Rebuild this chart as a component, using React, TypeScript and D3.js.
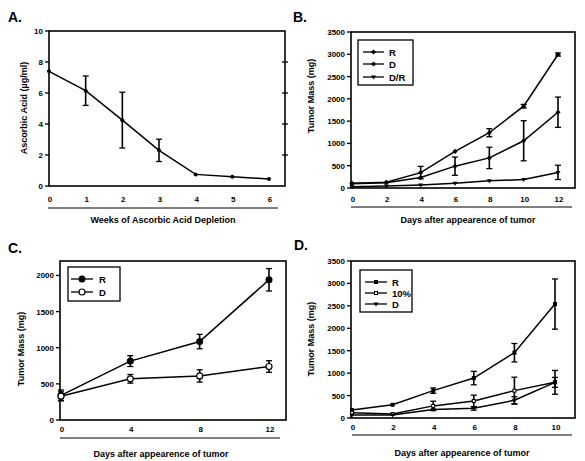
import React from "react";
import * as d3 from "d3";

// ---------- Panel A data ----------
const aWeeks = [0, 1, 2, 3, 4, 5, 6];
const aAscorbic = [7.4, 6.15, 4.25, 2.3, 0.75, 0.6, 0.45];
const aAscorbicErr = [0, 0.95, 1.8, 0.72, 0, 0, 0];
const aYTicks = [0, 2, 4, 6, 8, 10];

// ---------- Panel B data ----------
const bDays = [0, 2, 4, 6, 8, 10, 12];
const bR = [105, 128, 345, 820, 1240, 1835, 2995];
const bRErr = [0, 0, 140, 0, 90, 40, 35];
const bD = [95, 120, 235, 490, 675, 1060, 1700];
const bDErr = [0, 0, 0, 205, 240, 450, 340];
const bDR = [30, 45, 70, 105, 160, 190, 350];
const bDRErr = [0, 0, 0, 0, 0, 0, 160];
const bYTicks = [0, 500, 1000, 1500, 2000, 2500, 3000, 3500];

// ---------- Panel C data ----------
const cDays = [0, 4, 8, 12];
const cR = [340, 815, 1085, 1940];
const cRErr = [75, 75, 100, 155];
const cD = [330, 570, 610, 740];
const cDErr = [60, 60, 85, 80];
const cYTicks = [0, 500, 1000, 1500, 2000];

// ---------- Panel D data ----------
const dDays = [0, 2, 4, 6, 8, 10];
const dR = [180, 295, 610, 890, 1455, 2540];
const dRErr = [0, 0, 60, 150, 205, 560];
const d10 = [115, 90, 270, 380, 610, 795];
const d10Err = [0, 0, 105, 130, 300, 265];
const dD = [65, 65, 190, 215, 395, 795];
const dDErr = [0, 0, 0, 40, 80, 110];
const dYTicks = [0, 500, 1000, 1500, 2000, 2500, 3000, 3500];

const FONT = "'Liberation Sans', Arial, Helvetica, sans-serif";

type Marker = "diamond" | "circle" | "circleOpen" | "triDown" | "square" | "squareOpen" | "none";

type Series = {
  name: string;
  xs: number[];
  ys: number[];
  errs: number[];
  marker: Marker;
  size: number;
};

type PanelCfg = {
  letter: string;
  letterX: number;
  letterY: number;
  box: { l: number; t: number; r: number; b: number };
  xDomain: [number, number];
  xRange: [number, number];
  xTicks: number[];
  yDomain: [number, number];
  yTicks: number[];
  rightTicks: boolean;
  xLabelY: number;
  sep: { y: number; x1: number; x2: number };
  xTitle: string;
  xTitleX: number;
  xTitleY: number;
  yTitle: string;
  yTitleX: number;
  yTitleY: number;
  series: Series[];
  legend?: { l: number; t: number; r: number; b: number; rows: number[]; lx1: number; lx2: number; tx: number };
};

function MarkerShape({ type, x, y, s }: { type: Marker; x: number; y: number; s: number }) {
  const h = s / 2;
  switch (type) {
    case "diamond":
      return <path d={`M${x},${y - h - 0.6}L${x + h + 0.6},${y}L${x},${y + h + 0.6}L${x - h - 0.6},${y}Z`} fill="#000" />;
    case "circle":
      return <circle cx={x} cy={y} r={h} fill="#000" />;
    case "circleOpen":
      return <circle cx={x} cy={y} r={h - 0.5} fill="#fff" stroke="#000" strokeWidth={1.2} />;
    case "triDown":
      return <path d={`M${x - h - 0.5},${y - h + 0.5}L${x + h + 0.5},${y - h + 0.5}L${x},${y + h + 0.5}Z`} fill="#000" />;
    case "square":
      return <rect x={x - h} y={y - h} width={s} height={s} fill="#000" />;
    case "squareOpen":
      return <rect x={x - h + 0.5} y={y - h + 0.5} width={s - 1} height={s - 1} fill="#fff" stroke="#000" strokeWidth={1} />;
    default:
      return null;
  }
}

function Panel({ cfg }: { cfg: PanelCfg }) {
  const { box } = cfg;
  const x = d3.scaleLinear().domain(cfg.xDomain).range(cfg.xRange);
  const y = d3.scaleLinear().domain(cfg.yDomain).range([box.b, box.t]);
  const line = d3
    .line<[number, number]>()
    .x((d) => x(d[0]))
    .y((d) => y(d[1]));
  const cap = 3;
  return (
    <g>
      <text x={cfg.letterX} y={cfg.letterY} fontFamily={FONT} fontWeight="bold" fontSize={14}>
        {cfg.letter}
      </text>
      <rect x={box.l} y={box.t} width={box.r - box.l} height={box.b - box.t} fill="none" stroke="#000" strokeWidth={1.6} />
      {cfg.yTicks.map((t) => (
        <g key={"yt" + t}>
          <line x1={box.l - 4} x2={box.l} y1={y(t)} y2={y(t)} stroke="#000" strokeWidth={1.3} />
          {cfg.rightTicks && t > cfg.yDomain[0] && t < cfg.yDomain[1] && (
            <line x1={box.r - 3} x2={box.r + 3} y1={y(t)} y2={y(t)} stroke="#000" strokeWidth={1.3} />
          )}
          <text x={box.l - 6} y={y(t) + 3} textAnchor="end" fontFamily={FONT} fontWeight="bold" fontSize={8}>
            {t}
          </text>
        </g>
      ))}
      {cfg.xTicks.map((t) => (
        <text key={"xt" + t} x={x(t) + 1} y={cfg.xLabelY} textAnchor="middle" fontFamily={FONT} fontWeight="bold" fontSize={8}>
          {t}
        </text>
      ))}
      <line x1={cfg.sep.x1} x2={cfg.sep.x2} y1={cfg.sep.y} y2={cfg.sep.y} stroke="#000" strokeWidth={1} />
      <text x={cfg.xTitleX} y={cfg.xTitleY} textAnchor="middle" fontFamily={FONT} fontWeight="bold" fontSize={9}>
        {cfg.xTitle}
      </text>
      <text
        transform={`translate(${cfg.yTitleX},${cfg.yTitleY}) rotate(-90)`}
        textAnchor="middle"
        fontFamily={FONT}
        fontWeight="bold"
        fontSize={9}
      >
        {cfg.yTitle}
      </text>
      {cfg.series.map((s) => {
        const pts: [number, number][] = s.xs.map((xv, i) => [xv, s.ys[i]]);
        return (
          <g key={"s" + s.name}>
            <path d={line(pts) || ""} fill="none" stroke="#000" strokeWidth={1.5} />
            {pts.map((p, i) =>
              s.errs[i] > 0 ? (
                <g key={"e" + i}>
                  <line x1={x(p[0])} x2={x(p[0])} y1={y(p[1] - s.errs[i])} y2={y(p[1] + s.errs[i])} stroke="#000" strokeWidth={1.6} />
                  <line x1={x(p[0]) - cap} x2={x(p[0]) + cap} y1={y(p[1] + s.errs[i])} y2={y(p[1] + s.errs[i])} stroke="#000" strokeWidth={1.3} />
                  <line x1={x(p[0]) - cap} x2={x(p[0]) + cap} y1={y(p[1] - s.errs[i])} y2={y(p[1] - s.errs[i])} stroke="#000" strokeWidth={1.3} />
                </g>
              ) : null
            )}
            {pts.map((p, i) => (
              <MarkerShape key={"m" + i} type={s.marker} x={x(p[0])} y={y(p[1])} s={s.size} />
            ))}
          </g>
        );
      })}
      {cfg.legend && (
        <g>
          <rect
            x={cfg.legend.l}
            y={cfg.legend.t}
            width={cfg.legend.r - cfg.legend.l}
            height={cfg.legend.b - cfg.legend.t}
            fill="#fff"
            stroke="#000"
            strokeWidth={1.3}
          />
          {cfg.series.map((s, i) => {
            const ry = cfg.legend!.rows[i];
            const mx = (cfg.legend!.lx1 + cfg.legend!.lx2) / 2;
            return (
              <g key={"lg" + s.name}>
                <line x1={cfg.legend!.lx1} x2={cfg.legend!.lx2} y1={ry} y2={ry} stroke="#000" strokeWidth={1.3} />
                <MarkerShape type={s.marker} x={mx} y={ry} s={s.size} />
                <text x={cfg.legend!.tx} y={ry + 3.5} fontFamily={FONT} fontWeight="bold" fontSize={9.5}>
                  {s.name}
                </text>
              </g>
            );
          })}
        </g>
      )}
    </g>
  );
}

const panels: PanelCfg[] = [
  {
    letter: "A.",
    letterX: 8,
    letterY: 22,
    box: { l: 49, t: 31, r: 285, b: 186 },
    xDomain: [0, 6],
    xRange: [49, 269],
    xTicks: aWeeks,
    yDomain: [0, 10],
    yTicks: aYTicks,
    rightTicks: true,
    xLabelY: 202,
    sep: { y: 208, x1: 48, x2: 278 },
    xTitle: "Weeks of Ascorbic Acid Depletion",
    xTitleX: 163,
    xTitleY: 223,
    yTitle: "Ascorbic Acid (\u00b5g/ml)",
    yTitleX: 27,
    yTitleY: 108,
    series: [{ name: "A", xs: aWeeks, ys: aAscorbic, errs: aAscorbicErr, marker: "circle", size: 4 }],
  },
  {
    letter: "B.",
    letterX: 293,
    letterY: 22,
    box: { l: 351, t: 32, r: 575, b: 188 },
    xDomain: [0, 12],
    xRange: [352, 558],
    xTicks: bDays,
    yDomain: [0, 3500],
    yTicks: bYTicks,
    rightTicks: false,
    xLabelY: 202,
    sep: { y: 207, x1: 351, x2: 572 },
    xTitle: "Days after appearence of tumor",
    xTitleX: 468,
    xTitleY: 223,
    yTitle: "Tumor Mass (mg)",
    yTitleX: 314,
    yTitleY: 96,
    series: [
      { name: "R", xs: bDays, ys: bR, errs: bRErr, marker: "diamond", size: 4 },
      { name: "D", xs: bDays, ys: bD, errs: bDErr, marker: "diamond", size: 4 },
      { name: "D/R", xs: bDays, ys: bDR, errs: bDRErr, marker: "triDown", size: 4 },
    ],
    legend: { l: 358, t: 40, r: 413, b: 85, rows: [52, 64, 77], lx1: 363, lx2: 384, tx: 389 },
  },
  {
    letter: "C.",
    letterX: 8,
    letterY: 253,
    box: { l: 60, t: 261, r: 286, b: 420 },
    xDomain: [0, 12],
    xRange: [61, 269],
    xTicks: cDays,
    yDomain: [0, 2200],
    yTicks: cYTicks,
    rightTicks: false,
    xLabelY: 432,
    sep: { y: 438, x1: 60, x2: 280 },
    xTitle: "Days after appearence of tumor",
    xTitleX: 161,
    xTitleY: 457,
    yTitle: "Tumor Mass (mg)",
    yTitleX: 24,
    yTitleY: 349,
    series: [
      { name: "R", xs: cDays, ys: cR, errs: cRErr, marker: "circle", size: 7 },
      { name: "D", xs: cDays, ys: cD, errs: cDErr, marker: "circleOpen", size: 7 },
    ],
    legend: { l: 68, t: 267, r: 120, b: 301, rows: [279, 292], lx1: 71, lx2: 93, tx: 99 },
  },
  {
    letter: "D.",
    letterX: 294,
    letterY: 250,
    box: { l: 351, t: 261, r: 575, b: 418 },
    xDomain: [0, 10],
    xRange: [352, 555],
    xTicks: dDays,
    yDomain: [0, 3500],
    yTicks: dYTicks,
    rightTicks: false,
    xLabelY: 430,
    sep: { y: 435, x1: 352, x2: 572 },
    xTitle: "Days after appearence of tumor",
    xTitleX: 462,
    xTitleY: 456,
    yTitle: "Tumor Mass (mg)",
    yTitleX: 314,
    yTitleY: 339,
    series: [
      { name: "R", xs: dDays, ys: dR, errs: dRErr, marker: "square", size: 4 },
      { name: "10%", xs: dDays, ys: d10, errs: d10Err, marker: "squareOpen", size: 4 },
      { name: "D", xs: dDays, ys: dD, errs: dDErr, marker: "triDown", size: 4 },
    ],
    legend: { l: 360, t: 270, r: 412, b: 312, rows: [282, 293, 304], lx1: 365, lx2: 387, tx: 392 },
  },
];

export default function App() {
  return (
    <svg width={585} height={461} style={{ position: "absolute", left: 0, top: 0, background: "#fff" }}>
      <rect x={0} y={0} width={585} height={461} fill="#fff" />
      {panels.map((p) => (
        <Panel key={p.letter} cfg={p} />
      ))}
    </svg>
  );
}
